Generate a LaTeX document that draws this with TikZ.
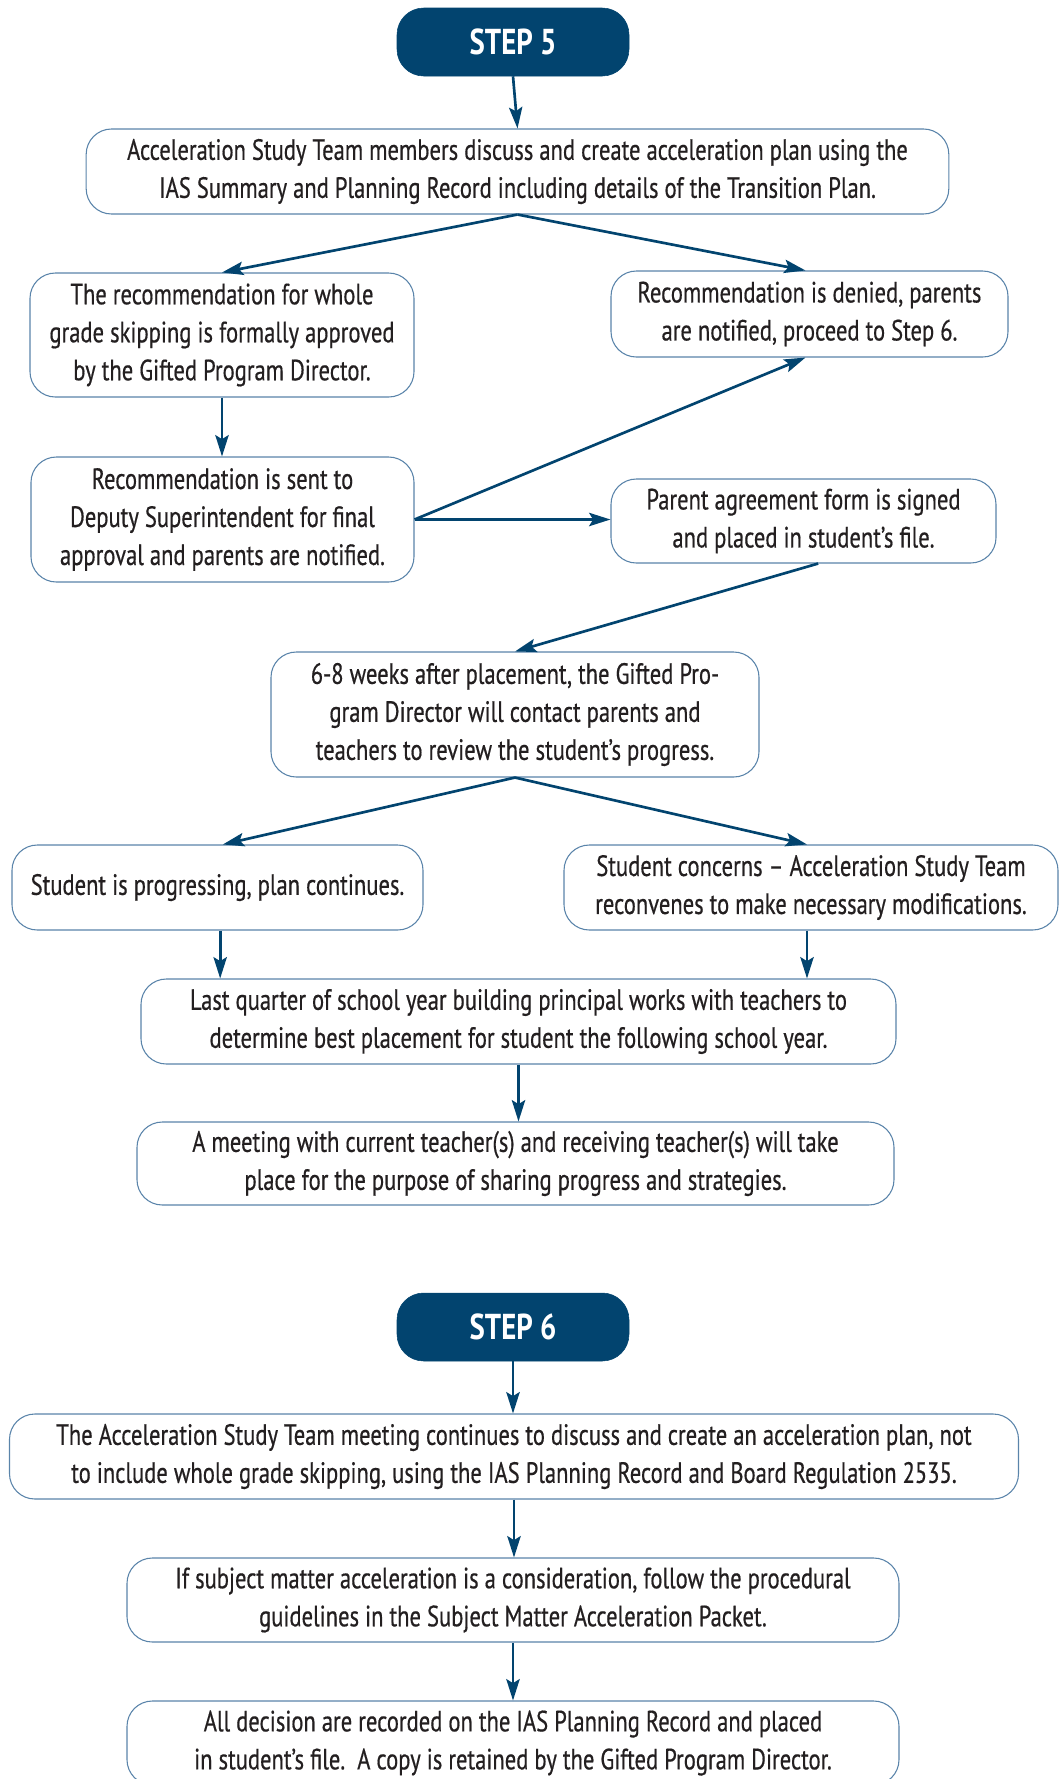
\documentclass[tikz,border=0pt]{standalone}
\usepackage{fontspec}
\setmainfont{PT Sans}[FakeStretch=0.77, FakeBold=0.5]
\newfontfamily\stepfont{PT Sans Bold}[FakeStretch=0.8]
\usetikzlibrary{arrows.meta}
\definecolor{navy}{HTML}{02446F}
\definecolor{edge}{HTML}{5A84AA}
\definecolor{ink}{HTML}{231F20}
\tikzset{
  box/.style={draw=edge, line width=0.8pt, rounded corners=19pt, fill=white,
    align=center, inner sep=0pt, text=ink, font=\fontsize{22}{28.5}\selectfont},
  stepbox/.style={fill=navy, draw=navy, rounded corners=20pt, inner sep=0pt,
    text=white, font=\fontsize{27}{30}\stepfont,
    minimum width=174pt, minimum height=51pt},
  arr/.style={draw=navy, line width=2pt,
    -{Stealth[length=16pt, width=10pt, inset=3pt]}}
}
\begin{document}
\begin{tikzpicture}[x=0.75pt, y=-0.75pt]
\useasboundingbox (0,0) rectangle (1058,1779);
\node[stepbox] (s5) at (513,42) {STEP 5};
\node[box, minimum width=647pt, minimum height=63.75pt] (b1) at (517.5,171.5)
  {Acceleration Study Team members discuss and create acceleration plan using the\\
   IAS Summary and Planning Record including details of the Transition Plan.};
\node[box, minimum width=288pt, minimum height=93pt] (b2) at (222,335)
  {The recommendation for whole\\grade skipping is formally approved\\by the Gifted Program Director.};
\node[box, minimum width=287.25pt, minimum height=93.75pt] (b3) at (222.5,519.5)
  {Recommendation is sent to\\Deputy Superintendent for final\\approval and parents are notified.};
\node[box, minimum width=297.75pt, minimum height=64.5pt] (bd) at (809.5,314)
  {Recommendation is denied, parents\\are notified, proceed to Step 6.};
\node[box, minimum width=288.75pt, minimum height=63pt] (bp) at (803.5,521)
  {Parent agreement form is signed\\and placed in student’s file.};
\node[box, minimum width=366pt, minimum height=93.75pt] (b68) at (515,714.5)
  {6-8 weeks after placement, the Gifted Pro-\\gram Director will contact parents and\\teachers to review the student’s progress.};
\node[box, minimum width=308.25pt, minimum height=63.75pt] (bprog) at (217.5,887.5)
  {Student is progressing, plan continues.};
\node[box, minimum width=370.5pt, minimum height=63.75pt] (bconc) at (811,887.5)
  {Student concerns – Acceleration Study Team\\reconvenes to make necessary modifications.};
\node[box, minimum width=566.25pt, minimum height=63.75pt] (blq) at (518.5,1021.5)
  {Last quarter of school year building principal works with teachers to\\determine best placement for student the following school year.};
\node[box, minimum width=567.75pt, minimum height=62.25pt] (bmeet) at (515.5,1163.5)
  {A meeting with current teacher(s) and receiving teacher(s) will take\\place for the purpose of sharing progress and strategies.};
\node[stepbox] (s6) at (513,1327) {STEP 6};
\node[box, minimum width=756.75pt, minimum height=63.75pt] (bast) at (514,1456.5)
  {The Acceleration Study Team meeting continues to discuss and create an acceleration plan, not\\to include whole grade skipping, using the IAS Planning Record and Board Regulation 2535.};
\node[box, minimum width=579pt, minimum height=63pt] (bsub) at (513,1600)
  {If subject matter acceleration is a consideration, follow the procedural\\guidelines in the Subject Matter Acceleration Packet.};
\node[box, minimum width=579pt, minimum height=63pt] (ball) at (513,1743)
  {All decision are recorded on the IAS Planning Record and placed\\in student’s file.\ \ A copy is retained by the Gifted Program Director.};
% connectors
\draw[arr] (s5.south) -- (b1.north);
\draw[arr] (b1.south) -- (b2.north);
\draw[arr] (b1.south) -- ([xshift=-3pt]bd.north);
\draw[arr] (b2.south) -- (b2.south |- b3.north);
\draw[arr] (b3.east) -- ([xshift=-3pt]bd.south);
\draw[arr] (b3.east) -- (bp.west |- b3.east);
\draw[arr] ([xshift=11pt]bp.south) -- (b68.north);
\draw[arr] (b68.south) -- ([xshift=4pt]bprog.north);
\draw[arr] (b68.south) -- ([xshift=-3pt]bconc.north);
\draw[arr] ([xshift=2pt]bprog.south) -- ([xshift=2pt]bprog.south |- blq.north);
\draw[arr] ([xshift=-3pt]bconc.south) -- ([xshift=-3pt]bconc.south |- blq.north);
\draw[arr] (blq.south) -- (blq.south |- bmeet.north);
\draw[arr] (s6.south) -- (s6.south |- bast.north);
\draw[arr] (bast.south) -- (bast.south |- bsub.north);
\draw[arr] (bsub.south) -- (bsub.south |- ball.north);
\end{tikzpicture}
\end{document}
